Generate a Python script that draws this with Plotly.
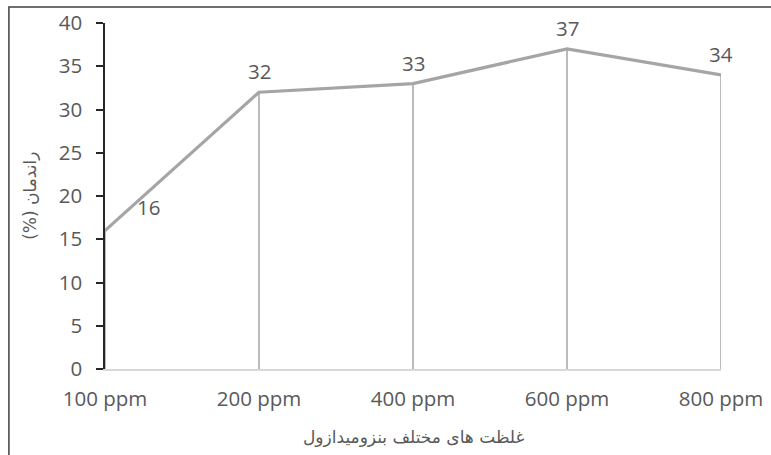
import plotly.graph_objects as go

# Yield (%) at different benzimidazole concentrations
concentrations = ["100 ppm", "200 ppm", "400 ppm", "600 ppm", "800 ppm"]
yield_pct = [16, 32, 33, 37, 34]
y_ticks = [0, 5, 10, 15, 20, 25, 30, 35, 40]

x_pos = list(range(len(concentrations)))

LINE = "#a5a5a5"
TEXT = "#595959"
FONT = "Open Sans"
AR_FONT = "DejaVu Sans"

fig = go.Figure()

# vertical drop lines from each point to the axis
drop_x, drop_y = [], []
for xi, v in zip(x_pos, yield_pct):
    drop_x += [xi, xi, None]
    drop_y += [0, v, None]
fig.add_trace(go.Scatter(x=drop_x, y=drop_y, mode="lines",
                         line=dict(color=LINE, width=1.5),
                         hoverinfo="skip", showlegend=False))

# main series
fig.add_trace(go.Scatter(x=x_pos, y=yield_pct, mode="lines",
                         line=dict(color=LINE, width=3.2),
                         showlegend=False))

# value labels
for i, (xi, v) in enumerate(zip(x_pos, yield_pct)):
    fig.add_annotation(x=xi, y=v, text=str(v), showarrow=False,
                       xshift=43 if i == 0 else 0,
                       yshift=24 if i == 0 else 21,
                       font=dict(family=FONT, size=20.5, color=TEXT))

# axis titles
fig.add_annotation(xref="paper", yref="paper", x=-0.122, y=0.5,
                   text="(%) راندمان", textangle=-90, showarrow=False,
                   xanchor="center", yanchor="middle",
                   font=dict(family=AR_FONT, size=17, color=TEXT))
fig.add_annotation(xref="paper", yref="paper", x=0.5, y=-0.197,
                   text="غلظت های مختلف بنزومیدازول", showarrow=False,
                   xanchor="center", yanchor="middle",
                   font=dict(family=AR_FONT, size=17, color=TEXT))

# chart frame
fig.add_shape(type="rect", xref="paper", yref="paper",
              x0=-0.156, x1=1.2, y0=-0.3, y1=1.046,
              line=dict(color="#404040", width=1.5), layer="below")

fig.update_xaxes(range=[0, 4], tickvals=x_pos, ticktext=concentrations,
                 showgrid=False, zeroline=False, showline=True,
                 linecolor="#d9d9d9", linewidth=1.5, ticks="",
                 ticklabelstandoff=11, automargin=False,
                 tickfont=dict(family=FONT, size=20.5, color=TEXT))
fig.update_yaxes(range=[0, 40], tickvals=y_ticks,
                 showgrid=False, zeroline=False, showline=True,
                 linecolor="#262626", linewidth=1.5,
                 ticks="outside", ticklen=7, tickwidth=1.5, tickcolor="#262626",
                 ticklabelstandoff=10, automargin=False,
                 tickfont=dict(family=FONT, size=20.5, color=TEXT))

fig.update_layout(width=771, height=455,
                  margin=dict(l=105, r=50, t=23, b=86),
                  paper_bgcolor="white", plot_bgcolor="white")

fig.write_html("out.html")
